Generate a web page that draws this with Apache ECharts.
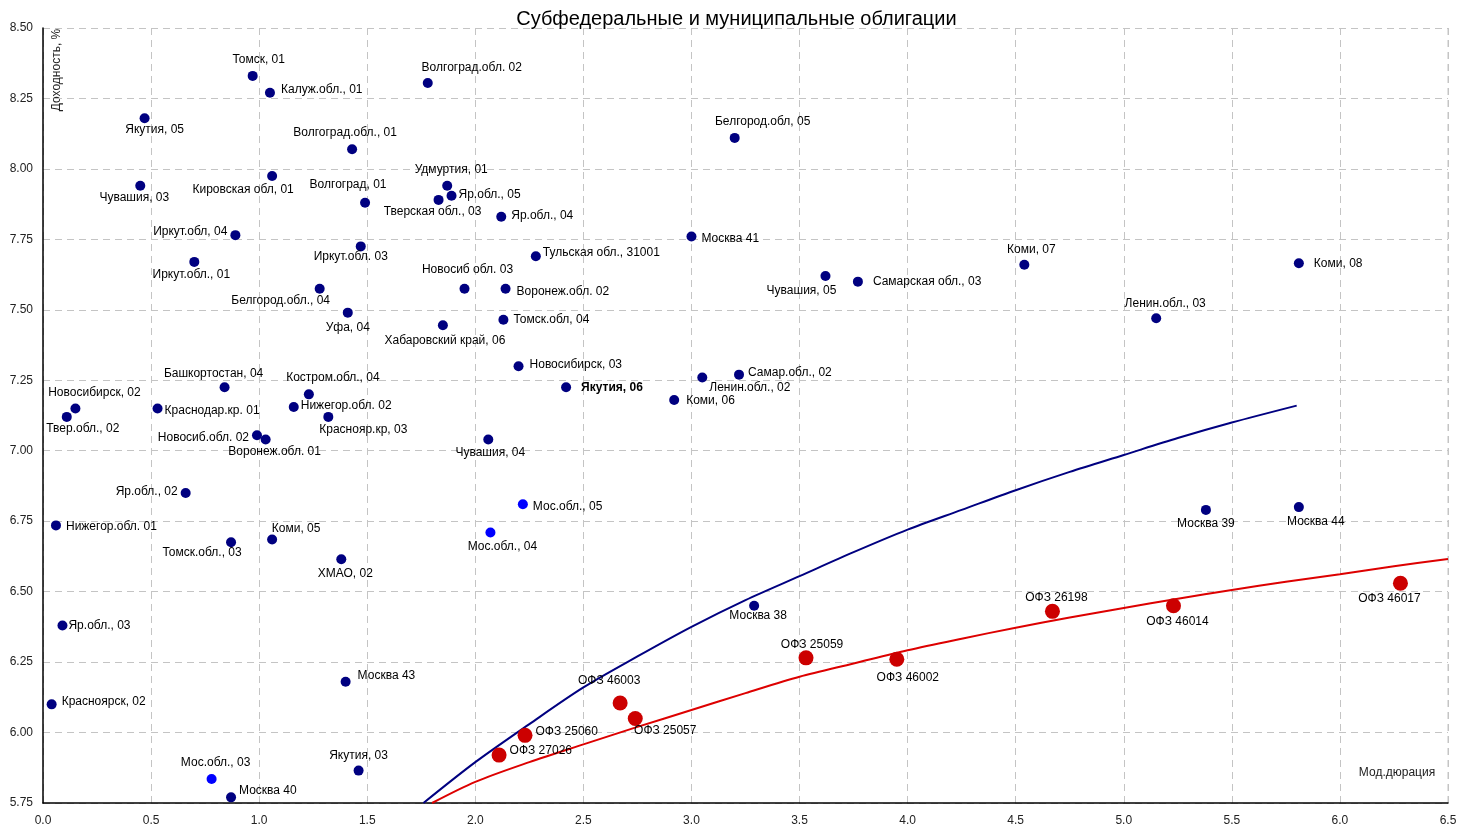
<!DOCTYPE html>
<html>
<head>
<meta charset="utf-8">
<script src="https://cdn.jsdelivr.net/npm/echarts@6/dist/echarts.min.js"></script>
<style>
  html, body { margin: 0; padding: 0; background: #fff; }
  #main { width: 1473px; height: 830px; }
</style>
</head>
<body>
<div id="main"></div>
<script>
// региональные облигации (тёмно-синие точки)
var regNames = ['Томск, 01', 'Калуж.обл., 01', 'Волгоград.обл. 02', 'Якутия, 05', 'Волгоград.обл., 01',
  'Белгород.обл, 05', 'Чувашия, 03', 'Кировская обл, 01', 'Волгоград, 01', 'Удмуртия, 01',
  'Яр.обл., 05', 'Тверская обл., 03', 'Яр.обл., 04', 'Иркут.обл, 04', 'Иркут.обл., 01',
  'Иркут.обл. 03', 'Москва 41', 'Тульская обл., 31001', 'Новосиб обл. 03', 'Воронеж.обл. 02',
  'Белгород.обл., 04', 'Уфа, 04', 'Хабаровский край, 06', 'Томск.обл, 04', 'Чувашия, 05',
  'Самарская обл., 03', 'Коми, 07', 'Коми, 08', 'Ленин.обл., 03', 'Новосибирск, 03',
  'Якутия, 06', 'Ленин.обл., 02', 'Самар.обл., 02', 'Коми, 06', 'Башкортостан, 04',
  'Новосибирск, 02', 'Твер.обл., 02', 'Краснодар.кр. 01', 'Костром.обл., 04', 'Нижегор.обл. 02',
  'Краснояр.кр, 03', 'Новосиб.обл. 02', 'Воронеж.обл. 01', 'Чувашия, 04', 'Яр.обл., 02',
  'Нижегор.обл. 01', 'Томск.обл., 03', 'Коми, 05', 'ХМАО, 02', 'Москва 39',
  'Москва 44', 'Москва 38', 'Яр.обл., 03', 'Москва 43', 'Красноярск, 02',
  'Якутия, 03', 'Москва 40'];
var regDur = [0.97, 1.05, 1.78, 0.47, 1.43,
  3.20, 0.45, 1.06, 1.49, 1.87,
  1.89, 1.83, 2.12, 0.89, 0.70,
  1.47, 3.00, 2.28, 1.95, 2.14,
  1.28, 1.41, 1.85, 2.13, 3.62,
  3.77, 4.54, 5.81, 5.15, 2.20,
  2.42, 3.05, 3.22, 2.92, 0.84,
  0.15, 0.11, 0.53, 1.23, 1.16,
  1.32, 0.99, 1.03, 2.06, 0.66,
  0.06, 0.87, 1.06, 1.38, 5.38,
  5.81, 3.29, 0.09, 1.40, 0.04,
  1.46, 0.87];
var regYield = [8.33, 8.27, 8.305, 8.18, 8.07,
  8.11, 7.94, 7.975, 7.88, 7.94,
  7.905, 7.89, 7.83, 7.765, 7.67,
  7.725, 7.76, 7.69, 7.575, 7.575,
  7.575, 7.49, 7.445, 7.465, 7.62,
  7.60, 7.66, 7.665, 7.47, 7.30,
  7.225, 7.26, 7.27, 7.18, 7.225,
  7.15, 7.12, 7.15, 7.20, 7.155,
  7.12, 7.055, 7.04, 7.04, 6.85,
  6.735, 6.675, 6.685, 6.615, 6.79,
  6.80, 6.45, 6.38, 6.18, 6.10,
  5.865, 5.77];

// Московская область (ярко-синие точки)
var mosNames = ['Мос.обл., 05', 'Мос.обл., 04', 'Мос.обл., 03'];
var mosDur = [2.22, 2.07, 0.78];
var mosYield = [6.81, 6.71, 5.835];

// ОФЗ (красные точки)
var ofzNames = ['ОФЗ 27026', 'ОФЗ 25060', 'ОФЗ 46003', 'ОФЗ 25057', 'ОФЗ 25059',
  'ОФЗ 46002', 'ОФЗ 26198', 'ОФЗ 46014', 'ОФЗ 46017'];
var ofzDur = [2.11, 2.23, 2.67, 2.74, 3.53, 3.95, 4.67, 5.23, 6.28];
var ofzYield = [5.92, 5.99, 6.105, 6.05, 6.265, 6.26, 6.43, 6.45, 6.53];

// кривые
var blueCurveX = [1.76, 2.0, 2.25, 2.5, 2.75, 3.0, 3.25, 3.5, 3.75, 4.0, 4.25, 4.5, 4.75, 5.0, 5.25, 5.5, 5.8];
var blueCurveY = [5.75, 5.895, 6.03, 6.16, 6.27, 6.375, 6.47, 6.555, 6.64, 6.72, 6.79, 6.86, 6.925, 6.985, 7.045, 7.10, 7.16];
var redCurveX = [1.80, 2.0, 2.25, 2.5, 2.75, 3.0, 3.25, 3.5, 3.75, 4.0, 4.25, 4.5, 4.75, 5.0, 5.25, 5.5, 5.75, 6.0, 6.25, 6.5];
var redCurveY = [5.75, 5.825, 5.895, 5.958, 6.02, 6.08, 6.14, 6.198, 6.245, 6.292, 6.333, 6.372, 6.408, 6.442, 6.475, 6.506, 6.535, 6.562, 6.59, 6.616];

// положение подписей: [позиция, dx, dy]
var labelPos = {
  'Томск, 01': ['top', 6, 0], 'Калуж.обл., 01': ['right', 1, -3], 'Волгоград.обл. 02': ['top', 44, 1],
  'Якутия, 05': ['bottom', 10, -4], 'Волгоград.обл., 01': ['top', -7, 0], 'Белгород.обл, 05': ['top', 28, 0],
  'Чувашия, 03': ['bottom', -6, -4], 'Кировская обл, 01': ['bottom', -29, -2], 'Волгоград, 01': ['top', -17, -2],
  'Удмуртия, 01': ['top', 4, 0], 'Яр.обл., 05': ['right', -3, -1], 'Тверская обл., 03': ['bottom', -6, -4],
  'Яр.обл., 04': ['right', 0, -1], 'Иркут.обл, 04': ['left', 2, -3], 'Иркут.обл., 01': ['bottom', -3, -3],
  'Иркут.обл. 03': ['bottom', -10, -6], 'Москва 41': ['right', 0, 2], 'Тульская обл., 31001': ['right', -3, -4],
  'Новосиб обл. 03': ['top', 3, -3], 'Воронеж.обл. 02': ['right', 1, 3], 'Белгород.обл., 04': ['bottom', -39, -4],
  'Уфа, 04': ['bottom', 0, -1], 'Хабаровский край, 06': ['bottom', 2, -1], 'Томск.обл, 04': ['right', 0, 0],
  'Чувашия, 05': ['bottom', -24, -1], 'Самарская обл., 03': ['right', 5, 0], 'Коми, 07': ['top', 7, 1],
  'Коми, 08': ['right', 5, 0], 'Ленин.обл., 03': ['top', 9, 1], 'Новосибирск, 03': ['right', 1, -1],
  'Якутия, 06': ['right', 5, 0], 'Ленин.обл., 02': ['right', -3, 10], 'Самар.обл., 02': ['right', -1, -2],
  'Коми, 06': ['right', 2, 1], 'Башкортостан, 04': ['top', -11, 2], 'Новосибирск, 02': ['top', 19, 0],
  'Твер.обл., 02': ['bottom', 16, -4], 'Краснодар.кр. 01': ['right', -3, 2], 'Костром.обл., 04': ['top', 24, -1],
  'Нижегор.обл. 02': ['right', -3, -1], 'Краснояр.кр, 03': ['bottom', 35, -3], 'Новосиб.обл. 02': ['left', 2, 2],
  'Воронеж.обл. 01': ['bottom', 9, -4], 'Чувашия, 04': ['bottom', 2, -3], 'Яр.обл., 02': ['left', 2, -1],
  'Нижегор.обл. 01': ['right', 0, 1], 'Томск.обл., 03': ['bottom', -29, -6], 'Коми, 05': ['top', 24, 5],
  'ХМАО, 02': ['bottom', 4, -2], 'Москва 39': ['bottom', 0, -2], 'Москва 44': ['bottom', 17, -1],
  'Москва 38': ['bottom', 4, -6], 'Яр.обл., 03': ['right', -4, 0], 'Москва 43': ['right', 2, -6],
  'Красноярск, 02': ['right', 0, -3], 'Якутия, 03': ['top', 0, 1], 'Москва 40': ['right', -2, -7],
  'Мос.обл., 05': ['right', 0, 2], 'Мос.обл., 04': ['bottom', 12, -2], 'Мос.обл., 03': ['top', 4, 0],
  'ОФЗ 27026': ['right', -2, -4], 'ОФЗ 25060': ['right', -2, -4], 'ОФЗ 46003': ['top', -11, -4],
  'ОФЗ 25057': ['bottom', 30, -6], 'ОФЗ 25059': ['top', 6, 5], 'ОФЗ 46002': ['bottom', 11, 0],
  'ОФЗ 26198': ['top', 4, 5], 'ОФЗ 46014': ['bottom', 4, -3], 'ОФЗ 46017': ['bottom', -11, -3]
};

var FONT = '"Liberation Sans", Arial, sans-serif';

function points(names, xs, ys) {
  return names.map(function (n, i) {
    var p = labelPos[n] || ['right', 0, 0];
    return {
      name: n,
      value: [xs[i], ys[i]],
      label: {
        show: true,
        position: p[0],
        offset: [p[1], p[2]],
        distance: 5,
        formatter: '{b}',
        color: '#000',
        fontSize: 12,
        fontFamily: FONT,
        fontWeight: n === 'Якутия, 06' ? 'bold' : 'normal'
      }
    };
  });
}

function pairs(xs, ys) {
  return xs.map(function (x, i) { return [x, ys[i]]; });
}

var chart = echarts.init(document.getElementById('main'));

chart.setOption({
  animation: false,
  backgroundColor: '#fff',
  textStyle: { fontFamily: FONT },
  title: {
    text: 'Субфедеральные и муниципальные облигации',
    left: 'center',
    top: 4,
    textStyle: { fontSize: 20, fontWeight: 'normal', color: '#000', fontFamily: FONT }
  },
  grid: { left: 43, right: 25, top: 28, bottom: 27, containLabel: false },
  xAxis: {
    type: 'value',
    min: 0, max: 6.5, interval: 0.5,
    axisLine: { lineStyle: { color: '#000', width: 1.5 } },
    axisTick: { show: false },
    axisLabel: {
      color: '#222', fontSize: 12, margin: 12,
      formatter: function (v) { return v.toFixed(1); }
    },
    splitLine: { show: true, lineStyle: { color: '#c4c4c4', type: [7, 5] } }
  },
  yAxis: {
    type: 'value',
    min: 5.75, max: 8.5, interval: 0.25,
    axisLine: { show: true, lineStyle: { color: '#000', width: 1.5 } },
    axisTick: { show: false },
    axisLabel: {
      color: '#222', fontSize: 12, margin: 10,
      formatter: function (v) { return v.toFixed(2); }
    },
    splitLine: { show: true, lineStyle: { color: '#c4c4c4', type: [7, 5] } }
  },
  graphic: [
    {
      type: 'text', x: 57, y: 70, rotation: Math.PI / 2,
      style: { text: 'Доходность, %', fill: '#222', font: '12px ' + FONT, textAlign: 'center', textVerticalAlign: 'middle' }
    },
    {
      type: 'text', x: 1397, y: 773,
      style: { text: 'Мод.дюрация', fill: '#222', font: '12px ' + FONT, textAlign: 'center', textVerticalAlign: 'middle' }
    },
    {
      type: 'line', shape: { x1: 1448, y1: 28, x2: 1448, y2: 803 },
      style: { stroke: '#c4c4c4', lineDash: [7, 5] }
    }
  ],
  series: [
    {
      type: 'line', data: pairs(blueCurveX, blueCurveY), smooth: 0.3, showSymbol: false,
      lineStyle: { color: '#000080', width: 2 }, z: 1, silent: true
    },
    {
      type: 'line', data: pairs(redCurveX, redCurveY), smooth: 0.3, showSymbol: false,
      lineStyle: { color: '#dd0000', width: 2 }, z: 1, silent: true
    },
    {
      type: 'scatter', data: points(regNames, regDur, regYield), symbolSize: 10,
      itemStyle: { color: '#000080', opacity: 1 }, z: 3
    },
    {
      type: 'scatter', data: points(mosNames, mosDur, mosYield), symbolSize: 10,
      itemStyle: { color: '#0000ff', opacity: 1 }, z: 3
    },
    {
      type: 'scatter', data: points(ofzNames, ofzDur, ofzYield), symbolSize: 15,
      itemStyle: { color: '#cc0000', opacity: 1 }, z: 3
    }
  ]
});
</script>
</body>
</html>
